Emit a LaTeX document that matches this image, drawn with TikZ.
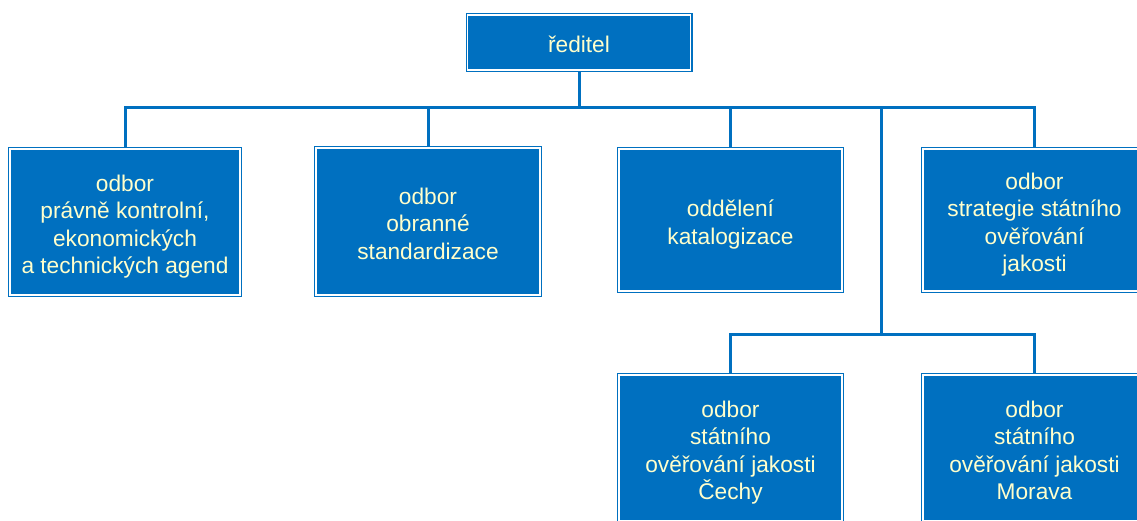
\documentclass[tikz,border=0pt]{standalone}
\usepackage{fontspec}
\setmainfont{Liberation Sans}
\usetikzlibrary{backgrounds}
\definecolor{boxblue}{HTML}{0070C0}
\definecolor{cream}{HTML}{FFFFCC}
\newcommand\mytopstrut{\rule[-8pt]{0pt}{37pt}}
\tikzset{
  orgbox/.style={rectangle, draw=boxblue, fill=boxblue, line width=1.2pt,
    double=white, double distance=1.6pt, text=cream, align=center,
    inner sep=0pt, font=\fontsize{22.7}{27.5}\selectfont,
    execute at end node=\strut},
  conn/.style={draw=boxblue, line width=3pt}
}
\begin{document}
\begin{tikzpicture}[x=1pt, y=-1pt]
\useasboundingbox (0,0) rectangle (1137,521);
\clip (0,0) rectangle (1137,521);
\node[orgbox, minimum width=223pt, minimum height=55pt] (boss) at (579,42.5) {\mytopstrut ředitel};
\node[orgbox, minimum width=230pt, minimum height=146pt] (b1) at (125,222) {\mytopstrut odbor\\právně kontrolní,\\ekonomických\\a technických agend};
\node[orgbox, minimum width=224pt, minimum height=147pt] (b2) at (428,221.5) {\mytopstrut odbor\\obranné\\standardizace};
\node[orgbox, minimum width=223pt, minimum height=142pt] (b3) at (730.5,220) {\mytopstrut oddělení\\katalogizace};
\node[orgbox, minimum width=223pt, minimum height=142pt] (b4) at (1034.5,220) {\mytopstrut odbor\\strategie státního\\ověřování\\jakosti};
\node[orgbox, minimum width=223pt, minimum height=146pt] (b5) at (730.5,448) {\mytopstrut odbor\\státního\\ověřování jakosti\\Čechy};
\node[orgbox, minimum width=223pt, minimum height=146pt] (b6) at (1034.5,448) {\mytopstrut odbor\\státního\\ověřování jakosti\\Morava};
\coordinate (bus) at (579,108);
\coordinate (split) at (881,108);
\coordinate (split2) at (881,334);
\begin{scope}[on background layer]
\fill[white] (0,0) rectangle (1137,521);
\draw[conn] (boss.south) -- (bus);
\draw[conn] (b1.north) |- (b4.north |- bus) -- (b4.north);
\draw[conn] (b2.north) -- (b2.north |- bus);
\draw[conn] (b3.north) -- (b3.north |- bus);
\draw[conn] (split) -- (split2);
\draw[conn] (b5.north) |- (b6.north |- split2) -- (b6.north);
\end{scope}
\end{tikzpicture}
\end{document}
